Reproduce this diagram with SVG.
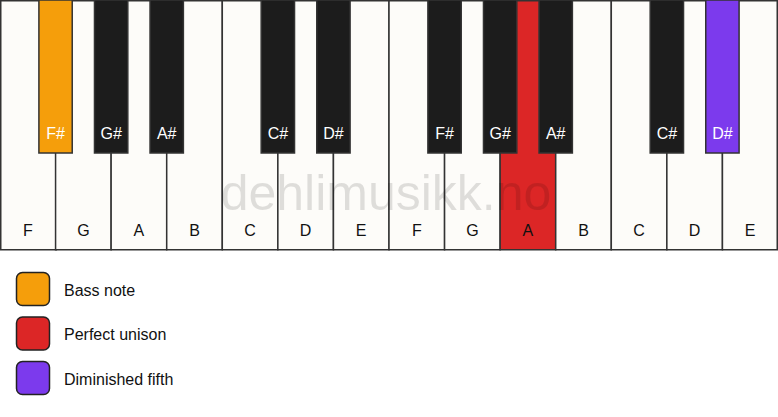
<svg xmlns="http://www.w3.org/2000/svg" width="778" height="417" viewBox="0 0 778 417">
<style>
.wk{fill:#FDFCF9;stroke:#333;stroke-width:1.5}
.bk{fill:#1C1C1C;stroke:#333;stroke-width:1.5}
.wl{font-family:"Liberation Sans",Arial,sans-serif;font-size:16px;fill:#111;text-anchor:middle}
.bl{font-family:"Liberation Sans",Arial,sans-serif;font-size:16px;fill:#fff;text-anchor:middle}
.lg{stroke:#222;stroke-width:1.5}
.lt{font-family:"Liberation Sans",Arial,sans-serif;font-size:16px;fill:#111}
.wm{font-family:"Liberation Sans",Arial,sans-serif;font-size:50px;fill:#000;fill-opacity:0.12;text-anchor:middle}
</style>
<rect x="0" y="0" width="778" height="417" fill="#fff"/>
<g id="white-keys">
<g id="w0"><rect class="wk" x="0.75" y="0.75" width="55.57" height="249"/><text class="wl" x="27.79" y="236">F</text></g>
<g id="w1"><rect class="wk" x="55.57" y="0.75" width="55.57" height="249"/><text class="wl" x="83.36" y="236">G</text></g>
<g id="w2"><rect class="wk" x="111.14" y="0.75" width="55.57" height="249"/><text class="wl" x="138.93" y="236">A</text></g>
<g id="w3"><rect class="wk" x="166.71" y="0.75" width="55.57" height="249"/><text class="wl" x="194.5" y="236">B</text></g>
<g id="w4"><rect class="wk" x="222.29" y="0.75" width="55.57" height="249"/><text class="wl" x="250.07" y="236">C</text></g>
<g id="w5"><rect class="wk" x="277.86" y="0.75" width="55.57" height="249"/><text class="wl" x="305.64" y="236">D</text></g>
<g id="w6"><rect class="wk" x="333.43" y="0.75" width="55.57" height="249"/><text class="wl" x="361.21" y="236">E</text></g>
<g id="w7"><rect class="wk" x="389" y="0.75" width="55.57" height="249"/><text class="wl" x="416.79" y="236">F</text></g>
<g id="w8"><rect class="wk" x="444.57" y="0.75" width="55.57" height="249"/><text class="wl" x="472.36" y="236">G</text></g>
<g id="w9"><rect class="wk" x="500.14" y="0.75" width="55.57" height="249" style="fill:#DC2626"/><text class="wl" x="527.93" y="236">A</text></g>
<g id="w10"><rect class="wk" x="555.71" y="0.75" width="55.57" height="249"/><text class="wl" x="583.5" y="236">B</text></g>
<g id="w11"><rect class="wk" x="611.29" y="0.75" width="55.57" height="249"/><text class="wl" x="639.07" y="236">C</text></g>
<g id="w12"><rect class="wk" x="666.86" y="0.75" width="55.57" height="249"/><text class="wl" x="694.64" y="236">D</text></g>
<g id="w13"><rect class="wk" x="722.43" y="0.75" width="54.82" height="249"/><text class="wl" x="750.21" y="236">E</text></g>
</g>
<text class="wm" x="386" y="210">dehlimusikk.no</text>
<g id="black-keys">
<g id="b1"><rect class="bk" x="38.9" y="0" width="33.33" height="153" style="fill:#F59E0B"/><text class="bl" x="55.57" y="139">F#</text></g>
<g id="b2"><rect class="bk" x="94.48" y="0" width="33.33" height="153"/><text class="bl" x="111.14" y="139">G#</text></g>
<g id="b3"><rect class="bk" x="150.05" y="0" width="33.33" height="153"/><text class="bl" x="166.71" y="139">A#</text></g>
<g id="b5"><rect class="bk" x="261.19" y="0" width="33.33" height="153"/><text class="bl" x="277.86" y="139">C#</text></g>
<g id="b6"><rect class="bk" x="316.76" y="0" width="33.33" height="153"/><text class="bl" x="333.43" y="139">D#</text></g>
<g id="b8"><rect class="bk" x="427.9" y="0" width="33.33" height="153"/><text class="bl" x="444.57" y="139">F#</text></g>
<g id="b9"><rect class="bk" x="483.48" y="0" width="33.33" height="153"/><text class="bl" x="500.14" y="139">G#</text></g>
<g id="b10"><rect class="bk" x="539.05" y="0" width="33.33" height="153"/><text class="bl" x="555.71" y="139">A#</text></g>
<g id="b12"><rect class="bk" x="650.19" y="0" width="33.33" height="153"/><text class="bl" x="666.86" y="139">C#</text></g>
<g id="b13"><rect class="bk" x="705.76" y="0" width="33.33" height="153" style="fill:#7C3AED"/><text class="bl" x="722.43" y="139">D#</text></g>
</g>
<g id="legend">
<g id="lg-bass"><rect class="lg" x="16.5" y="272.5" width="33" height="33" rx="6" fill="#F59E0B"/><text class="lt" x="64" y="295.5">Bass note</text></g>
<g id="lg-unison"><rect class="lg" x="16.5" y="317" width="33" height="33" rx="6" fill="#DC2626"/><text class="lt" x="64" y="340">Perfect unison</text></g>
<g id="lg-dim5"><rect class="lg" x="16.5" y="361.5" width="33" height="33" rx="6" fill="#7C3AED"/><text class="lt" x="64" y="384.5">Diminished fifth</text></g>
</g>
<g id="connectors"/>
</svg>
